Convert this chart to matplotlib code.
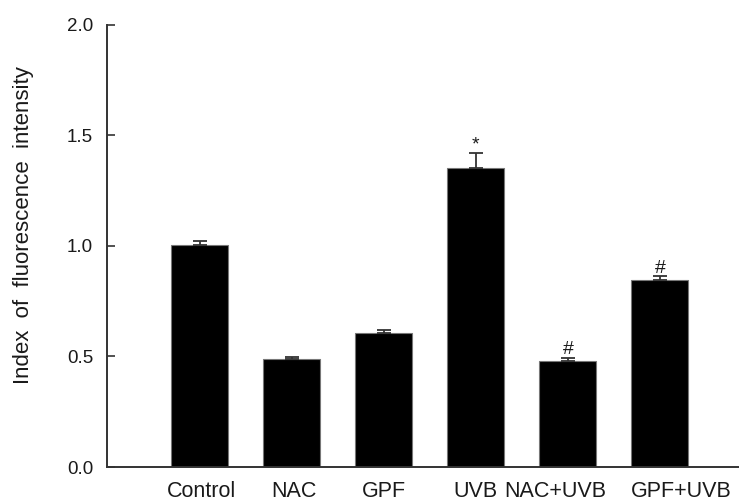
import matplotlib
matplotlib.use('Agg')
import matplotlib.pyplot as plt
import matplotlib.transforms as mtransforms
import numpy as np

plt.rcParams['font.family'] = ['Liberation Sans', 'DejaVu Sans']

groups = ['Control', 'NAC', 'GPF', 'UVB', 'NAC+UVB', 'GPF+UVB']
means = [1.005, 0.49, 0.605, 1.35, 0.48, 0.847]
sems = [0.015, 0.006, 0.015, 0.07, 0.014, 0.016]
marks = ['', '', '', '*', '#', '#']
y_ticks = [0.0, 0.5, 1.0, 1.5, 2.0]

# the original labels are not quite centred under their bars (pixels)
label_shift = [2, 2.5, 0, 0, -12.5, 21]

fig = plt.figure(figsize=(7.39, 5.04), dpi=100)
ax = fig.add_axes([107 / 739, 1 - 467 / 504, (739 - 107) / 739, (467 - 24.5) / 504])

x = np.arange(len(groups))
ax.bar(x, means, width=0.62, color='black', edgecolor='#777777', linewidth=0.8, zorder=2)
ax.errorbar(x, means, yerr=[np.zeros(len(sems)), sems], fmt='none', ecolor='#333333',
            elinewidth=1.3, capsize=5, capthick=1.3, zorder=3)

# significance marks above error bars
for xi, m, s, mk in zip(x, means, sems, marks):
    if mk:
        ax.text(xi, m + s + 0.015, mk, ha='center', va='baseline', fontsize=14, color='#1a1a1a')

ax.set_xlim(-1.01, 5.86)
ax.set_ylim(0, 2.0)
ax.set_xticks(x)
ax.set_xticklabels([])
ax.tick_params(axis='x', length=0)

# group names drawn as text so each can be nudged like in the original
for xi, name, dx in zip(x, groups, label_shift):
    tr = ax.get_xaxis_transform() + mtransforms.ScaledTranslation(dx / 100, -14 / 100, fig.dpi_scale_trans)
    ax.text(xi, 0, name, transform=tr, ha='center', va='top', fontsize=15.5, color='#1a1a1a')

ax.set_yticks(y_ticks)
ax.set_yticklabels(['%.1f' % t for t in y_ticks], fontsize=13.5, color='#1a1a1a')
ax.tick_params(axis='y', direction='in', length=5.5, width=1.2, color='#333333', pad=10)

ax.set_ylabel('Index  of  fluorescence  intensity', fontsize=16, color='#1a1a1a')
ax.yaxis.set_label_coords(34 / 739, 1 - 225 / 504, transform=fig.transFigure)

for side in ['top', 'right']:
    ax.spines[side].set_visible(False)
for side in ['left', 'bottom']:
    ax.spines[side].set_linewidth(1.4)
    ax.spines[side].set_color('#333333')

plt.savefig('out.png', dpi=100)
